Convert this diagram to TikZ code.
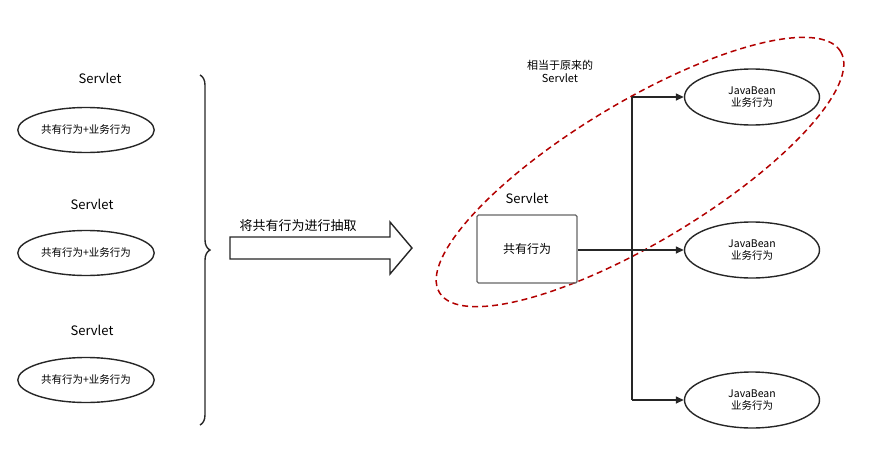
\documentclass[tikz,border=0pt]{standalone}
\usepackage{fontspec}
\setmainfont{Noto Sans CJK SC}
\usetikzlibrary{shapes.geometric,arrows.meta,decorations.pathreplacing}
\begin{document}
\begin{tikzpicture}[x=1pt,y=-1pt,
  ell/.style={draw=black!85,line width=1.4pt,ellipse,minimum width=125pt,minimum height=45pt,font=\fontsize{10.5}{12.5}\selectfont,align=center},
  rell/.style={ell,minimum width=135pt,minimum height=56pt},
  lbl/.style={font=\fontsize{13}{15}\selectfont},
  con/.style={draw=black!85,line width=1.4pt},
  arr/.style={con,-{Triangle[length=8pt,width=7pt]}}]
\useasboundingbox (0,0) rectangle (881,458);
\node[ell] (l1) at (86,130) {共有行为+业务行为};
\node[ell] (l2) at (86,253) {共有行为+业务行为};
\node[ell] (l3) at (86,380) {共有行为+业务行为};
\node[lbl] (s1) at (100,78) {Servlet};
\node[lbl] (s2) at (92,204) {Servlet};
\node[lbl] (s3) at (92,330) {Servlet};
\coordinate (bt) at (200,75); \coordinate (bb) at (200,425);
\draw[con,decorate,decoration={brace,amplitude=10pt}] (bt) -- (bb);
\draw[con,fill=white] (230,237) -- (390,237) -- (390,222) -- (412,248) -- (390,274) -- (390,259) -- (230,259) -- cycle;
\node[lbl] (t) at (298,226) {将共有行为进行抽取};
\draw[red!70!black,line width=1.5pt,dash pattern=on 6pt off 4pt,rotate around={31:(640,172)}] (640,172) ellipse (234 and 70);
\node[font=\fontsize{11}{13}\selectfont,align=center] (orig) at (560,71) {相当于原来的\\Servlet};
\node[draw=black!60,line width=1.4pt,rounded corners=1.5pt,minimum width=100pt,minimum height=68pt,font=\fontsize{12}{14}\selectfont] (sv) at (527,249) {共有行为};
\node[lbl] (svl) at (527,198) {Servlet};
\node[rell] (r1) at (752,97) {JavaBean\\业务行为};
\node[rell] (r2) at (752,250) {JavaBean\\业务行为};
\node[rell] (r3) at (752,400) {JavaBean\\业务行为};
\coordinate (j) at (632,250);
\draw[arr] (sv.east |- r2) -- (r2.west);
\draw[con] (j |- r1) -- (j |- r3);
\draw[arr] (j |- r1) -- (r1.west);
\draw[arr] (j |- r3) -- (r3.west);
\end{tikzpicture}
\end{document}
